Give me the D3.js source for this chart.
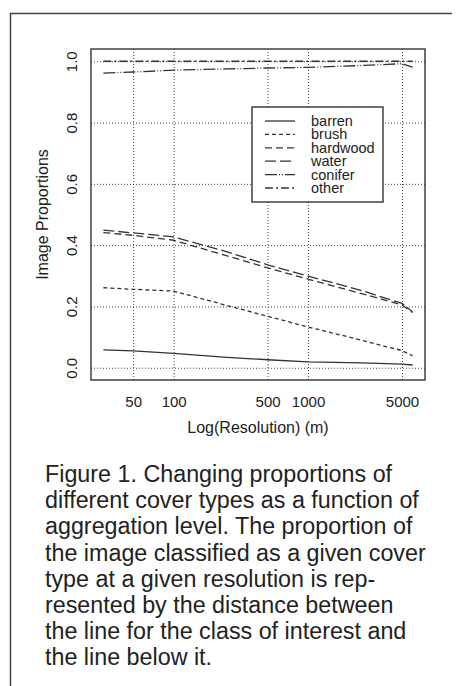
<!DOCTYPE html>
<html>
<head>
<meta charset="utf-8">
<script src="https://cdn.jsdelivr.net/npm/d3@7"></script>
<style>
  body { margin: 0; background: #fff; }
  svg { display: block; }
  .axis text { font-family: "Liberation Sans", Arial, sans-serif; font-size: 15px; fill: #222; }
  .axis path { display: none; }
  .axis line { stroke: #444; stroke-dasharray: 1,2; }
</style>
</head>
<body>
<div id="wrapper"></div>
<script>
// resolution (m) at which the image was aggregated
const resolutions = [30, 50, 100, 250, 500, 1000, 2500, 5000, 6000];
// cumulative image proportions, one array per cover type
const barren   = [0.058, 0.055, 0.047, 0.034, 0.026, 0.019, 0.016, 0.012, 0.009];
const brush    = [0.261, 0.256, 0.250, 0.203, 0.168, 0.133, 0.090, 0.056, 0.039];
const hardwood = [0.441, 0.432, 0.416, 0.365, 0.326, 0.289, 0.242, 0.205, 0.180];
const water    = [0.449, 0.440, 0.427, 0.378, 0.336, 0.299, 0.252, 0.210, 0.182];
const conifer  = [0.961, 0.965, 0.971, 0.975, 0.978, 0.980, 0.986, 0.992, 0.981];
const other    = [1.000, 1.000, 1.000, 1.000, 1.000, 1.000, 1.000, 1.000, 1.000];

const seriesNames = ["barren", "brush", "hardwood", "water", "conifer", "other"];
const xTicks = [50, 100, 500, 1000, 5000];
const yTicks = [0, 0.2, 0.4, 0.6, 0.8, 1.0];
const captionLines = [
    "Figure 1. Changing proportions of",
    "different cover types as a function of",
    "aggregation level. The proportion of",
    "the image classified as a given cover",
    "type at a given resolution is rep-",
    "resented by the distance between",
    "the line for the class of interest and",
    "the line below it."
];

const series = [barren, brush, hardwood, water, conifer, other];
const dashes = ["none", "4,3", "7,4", "11,4", "12,2,1,2,1,2", "8,3,2,3"];

var dimension = {
    width: 456,
    height: 686,
    margin: { top: 49, left: 91, bottom: 306, right: 31 }
};
dimension.boundedWidth = dimension.width - dimension.margin.left - dimension.margin.right;
dimension.boundedHeight = dimension.height - dimension.margin.top - dimension.margin.bottom;

const svg = d3.select("#wrapper").append("svg")
    .attr("width", dimension.width)
    .attr("height", dimension.height);

// page frame of the scanned figure
svg.append("path")
    .attr("d", "M10.5,686 V13.5 H452")
    .attr("fill", "none")
    .attr("stroke", "#444")
    .attr("stroke-width", 1.5);

const bounded = svg.append("g")
    .attr("transform", `translate(${dimension.margin.left},${dimension.margin.top})`);

// R style 4% padding on both axes
const lx = d3.extent(resolutions).map(Math.log10);
const pad = (lx[1] - lx[0]) * 0.04;
const xScale = d3.scaleLog()
    .domain([Math.pow(10, lx[0] - pad), Math.pow(10, lx[1] + pad)])
    .range([0, dimension.boundedWidth]);
const yScale = d3.scaleLinear()
    .domain([-0.04, 1.04])
    .range([dimension.boundedHeight, 0]);

// grid + tick labels
const xAxis = bounded.append("g")
    .attr("class", "axis")
    .attr("transform", `translate(0,${dimension.boundedHeight})`)
    .call(d3.axisBottom(xScale)
        .tickValues(xTicks)
        .tickFormat(d3.format("d"))
        .tickSize(-dimension.boundedHeight)
        .tickPadding(16));

const yAxis = bounded.append("g")
    .attr("class", "axis")
    .call(d3.axisLeft(yScale)
        .tickValues(yTicks)
        .tickFormat(d3.format(".1f"))
        .tickSize(-dimension.boundedWidth)
        .tickPadding(0));
yAxis.selectAll("text")
    .attr("x", 0)
    .attr("dy", 0)
    .attr("text-anchor", "middle")
    .attr("transform", "translate(-14,0) rotate(-90)");

// plot box
bounded.append("rect")
    .attr("width", dimension.boundedWidth)
    .attr("height", dimension.boundedHeight)
    .attr("fill", "none")
    .attr("stroke", "#333")
    .attr("stroke-width", 1.4);

const lineGenerator = d3.line()
    .x((d, i) => xScale(resolutions[i]))
    .y(d => yScale(d));

bounded.selectAll(".series")
    .data(series)
    .join("path")
    .attr("class", "series")
    .attr("d", lineGenerator)
    .attr("fill", "none")
    .attr("stroke", "#333")
    .attr("stroke-width", 1.3)
    .attr("stroke-dasharray", (d, i) => dashes[i]);

// axis titles
svg.append("text")
    .attr("x", dimension.margin.left + dimension.boundedWidth / 2)
    .attr("y", 433)
    .attr("text-anchor", "middle")
    .style("font-family", "'Liberation Sans', Arial, sans-serif")
    .style("font-size", "16px")
    .style("fill", "#222")
    .text("Log(Resolution) (m)");

svg.append("text")
    .attr("transform", `translate(48,${dimension.margin.top + dimension.boundedHeight / 2}) rotate(-90)`)
    .attr("text-anchor", "middle")
    .style("font-family", "'Liberation Sans', Arial, sans-serif")
    .style("font-size", "16px")
    .style("fill", "#222")
    .text("Image Proportions");

// legend
const legend = svg.append("g").attr("transform", "translate(252,107)");
legend.append("rect")
    .attr("width", 131)
    .attr("height", 95)
    .attr("fill", "#fff")
    .attr("stroke", "#333")
    .attr("stroke-width", 1.4);
const rows = legend.selectAll(".row")
    .data(seriesNames)
    .join("g")
    .attr("transform", (d, i) => `translate(0,${14 + i * 13.4})`);
rows.append("line")
    .attr("x1", 13).attr("x2", 43)
    .attr("stroke", "#333")
    .attr("stroke-width", 1.3)
    .attr("stroke-dasharray", (d, i) => dashes[i]);
rows.append("text")
    .attr("x", 59)
    .attr("dy", "0.35em")
    .style("font-family", "'Liberation Sans', Arial, sans-serif")
    .style("font-size", "14.5px")
    .style("fill", "#222")
    .text(d => d);

// caption
svg.append("g")
    .selectAll("text")
    .data(captionLines)
    .join("text")
    .attr("x", 45)
    .attr("y", (d, i) => 482 + i * 26.2)
    .style("font-family", "'Liberation Sans', Arial, sans-serif")
    .style("font-size", "23.3px")
    .style("fill", "#222")
    .text(d => d);
</script>
</body>
</html>
